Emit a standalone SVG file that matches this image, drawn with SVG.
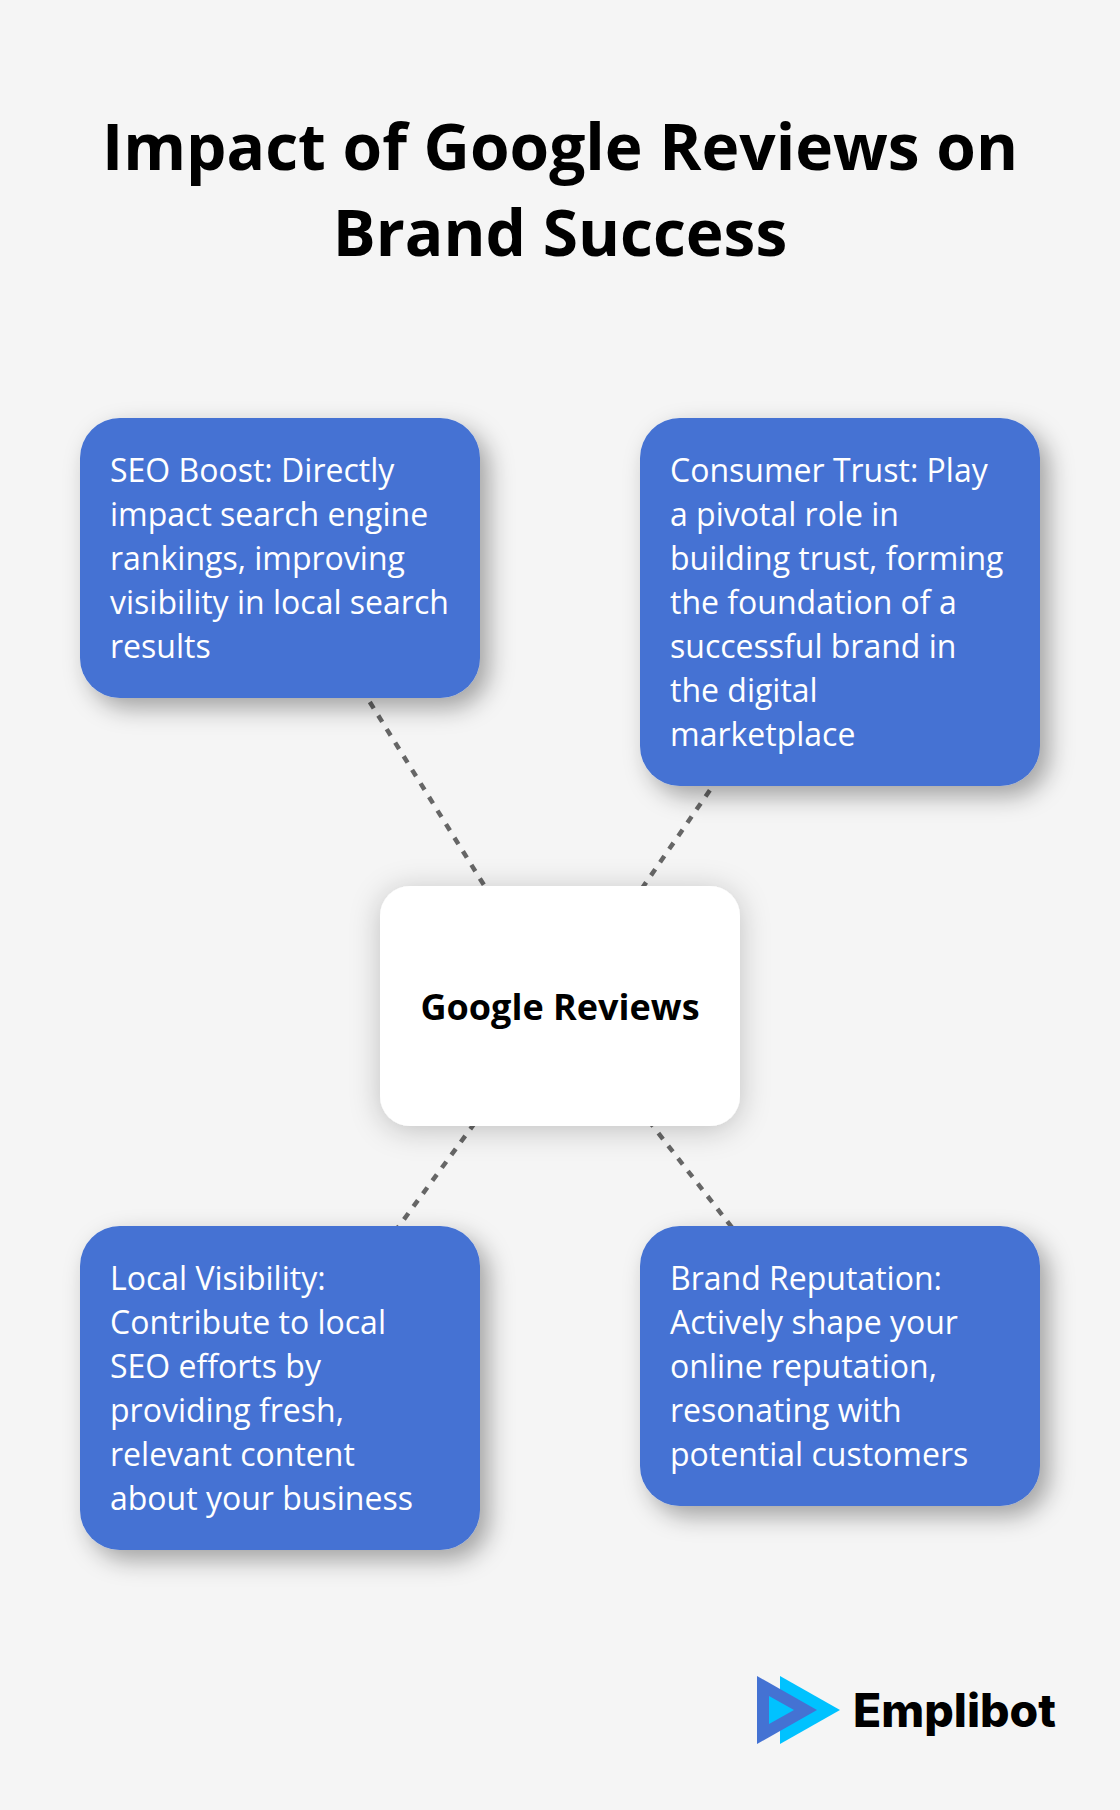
<svg xmlns="http://www.w3.org/2000/svg" width="1120" height="1810" viewBox="0 0 1120 1810">
<style>
.bg{fill:#f5f5f5}
.title{font:700 64px "Open Sans",sans-serif;fill:#000;text-anchor:middle}
.card{fill:#4472d3;filter:url(#sh)}
.hub{fill:#fff;filter:url(#shc)}
.t{font:400 32px "Open Sans",sans-serif;fill:#fff}
.h{font:700 36px "Open Sans",sans-serif;fill:#000;text-anchor:middle}
.c{stroke:#666;stroke-width:4.5;stroke-dasharray:7.5 8.5;fill:none}
</style>
<defs>
<filter id="sh" x="-25%" y="-25%" width="150%" height="160%"><feDropShadow dx="9" dy="10" stdDeviation="12.5" flood-color="#000" flood-opacity="0.34"/></filter>
<filter id="shc" x="-25%" y="-25%" width="150%" height="150%"><feDropShadow dx="0" dy="4" stdDeviation="15" flood-color="#000" flood-opacity="0.22"/></filter>
</defs>
<rect class="bg" width="1120" height="1810"/>
<g id="title"><text class="title" x="560" y="170">Impact of Google Reviews on</text><text class="title" x="560" y="256">Brand Success</text></g>
<g id="connectors">
<line class="c" x1="560" y1="1007" x2="280" y2="558"/>
<line class="c" x1="560" y1="1007" x2="840" y2="602"/>
<line class="c" x1="560" y1="1007" x2="280" y2="1388"/>
<line class="c" x1="560" y1="1007" x2="840" y2="1366"/>
</g>
<g id="node-seo"><rect class="card" x="80" y="418" width="400" height="280" rx="40"/>
<text class="t" x="110" y="482">SEO Boost: Directly</text><text class="t" x="110" y="526">impact search engine</text><text class="t" x="110" y="570">rankings, improving</text><text class="t" x="110" y="614">visibility in local search</text><text class="t" x="110" y="658">results</text></g>
<g id="node-trust"><rect class="card" x="640" y="418" width="400" height="368" rx="40"/>
<text class="t" x="670" y="482">Consumer Trust: Play</text><text class="t" x="670" y="526">a pivotal role in</text><text class="t" x="670" y="570">building trust, forming</text><text class="t" x="670" y="614">the foundation of a</text><text class="t" x="670" y="658">successful brand in</text><text class="t" x="670" y="702">the digital</text><text class="t" x="670" y="746">marketplace</text></g>
<g id="node-hub"><rect class="hub" x="380" y="886" width="360" height="240" rx="30"/><text class="h" x="560" y="1020">Google Reviews</text></g>
<g id="node-local"><rect class="card" x="80" y="1226" width="400" height="324" rx="40"/>
<text class="t" x="110" y="1290">Local Visibility:</text><text class="t" x="110" y="1334">Contribute to local</text><text class="t" x="110" y="1378">SEO efforts by</text><text class="t" x="110" y="1422">providing fresh,</text><text class="t" x="110" y="1466">relevant content</text><text class="t" x="110" y="1510">about your business</text></g>
<g id="node-brand"><rect class="card" x="640" y="1226" width="400" height="280" rx="40"/>
<text class="t" x="670" y="1290">Brand Reputation:</text><text class="t" x="670" y="1334">Actively shape your</text><text class="t" x="670" y="1378">online reputation,</text><text class="t" x="670" y="1422">resonating with</text><text class="t" x="670" y="1466">potential customers</text></g>
<g id="logo">
<polygon points="780,1676 840,1710 780,1744" fill="#00c2ff"/>
<polygon points="757,1676 817,1710 757,1744" fill="#4472d3"/>
<polygon points="769,1696 794,1710 769,1724" fill="#00c2ff"/>
<text x="853" y="1727" font-family="Inter,sans-serif" font-weight="800" font-size="46" textLength="203" lengthAdjust="spacingAndGlyphs" fill="#000">Emplibot</text>
</g>
</svg>
